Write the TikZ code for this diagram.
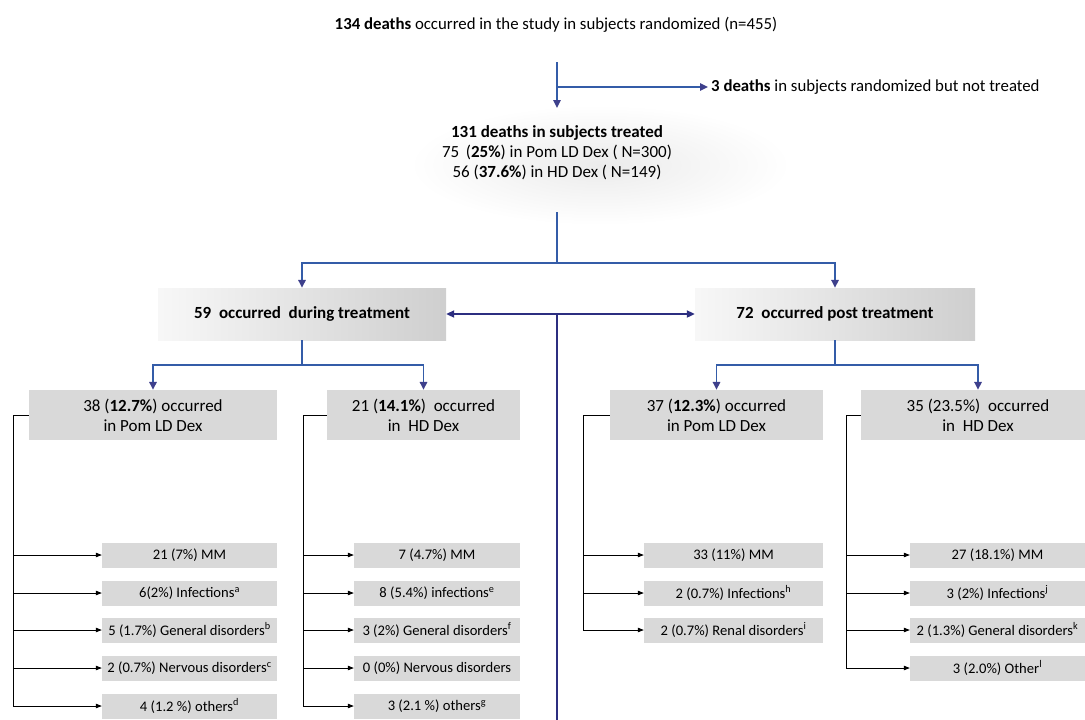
\documentclass[tikz,border=0pt]{standalone}
\usepackage{fontspec}
\setmainfont{Carlito}
\usetikzlibrary{arrows.meta,fadings}
\tikzfading[name=softbox, inner color=transparent!0, outer color=transparent!100]
\definecolor{lineblue}{RGB}{52,92,168}
\definecolor{headnavy}{RGB}{62,64,140}
\definecolor{centernavy}{RGB}{44,46,128}
\definecolor{boxgray}{RGB}{217,217,217}
\begin{document}
\begin{tikzpicture}[x=1pt,y=-1pt,
  bl/.style={draw=lineblue, line width=1.6pt},
  blarr/.style={bl, -{Triangle[length=8pt,width=7.5pt,color=headnavy]}},
  navyline/.style={draw=centernavy, line width=2pt},
  navyarr/.style={navyline, {Triangle[length=8pt,width=7pt]}-{Triangle[length=8pt,width=7pt]}},
  brk/.style={draw=black, line width=0.7pt, -{Triangle[length=6pt,width=4.5pt]}},
  plain/.style={inner sep=0pt, font=\fontsize{16.8}{20}\selectfont},
  topbox/.style={left color=black!3, right color=black!19, draw=none, minimum height=52pt,
    inner sep=0pt, font=\fontsize{17}{20}\selectfont\bfseries},
  shadowbox/.style={fill=black!8, draw=none, inner sep=0pt, path fading=softbox},
  midbox/.style={fill=boxgray, draw=none, minimum height=50pt, align=center,
    inner sep=0pt, font=\fontsize{17}{20}\selectfont},
  leaf/.style={fill=boxgray, draw=none, minimum height=25pt, inner sep=0pt,
    font=\fontsize{14.6}{16}\selectfont}
]
\useasboundingbox (0,0) rectangle (1085,720);
\clip (0,0) rectangle (1085,720);

% top
\node[plain] (title) at (556,25) {\textbf{134 deaths} occurred in the study in subjects randomized (n=455)};
\coordinate (c0) at (557,62);
\node[plain, anchor=west, inner xsep=3pt] (notreat) at (708,87) {\textbf{3 deaths} in subjects randomized but not treated};

\node[shadowbox, minimum width=380pt, minimum height=120pt] (s131) at (600,165) {};
\node[anchor=north, inner xsep=3pt, inner ysep=17pt, align=center, font=\fontsize{17}{20}\selectfont] (t131) at (557,108)
  {\textbf{131 deaths in subjects treated}\\75 \,(\textbf{25\%}) in Pom LD Dex ( N=300)\\56 (\textbf{37.6\%}) in HD Dex ( N=149)};

\draw[blarr] (c0) -- (t131.north);
\draw[blarr] (c0 |- notreat.west) -- (notreat.west);

% second level
\node[topbox, minimum width=288pt] (b59) at (302,314) {59 \ occurred \ during treatment};
\node[topbox, minimum width=280pt] (b72) at (835,314) {72 \ occurred post treatment};

\coordinate (j1) at (557,263);
\coordinate (j0) at (557,212);
\draw[bl] (j0) -- (j1);
\draw[blarr] (j1) -| (b59.north);
\draw[blarr] (j1) -| (b72.north);

\coordinate (cb) at (557,722);
\draw[navyline] (j1 |- b59.east) -- (cb);
\draw[navyarr] (b59.east) -- (b72.west);

% third level
\node[midbox, minimum width=248pt] (b38) at (153,415) {38 (\textbf{12.7\%}) occurred\\in Pom LD Dex};
\node[midbox, minimum width=193pt] (b21) at (423.5,415) {21 (\textbf{14.1\%}) \ occurred\\in \ HD Dex};
\node[midbox, minimum width=213pt] (b37) at (716.5,415) {37 (\textbf{12.3\%}) occurred\\in Pom LD Dex};
\node[midbox, minimum width=234pt] (b35) at (978,415) {35 (23.5\%) \ occurred\\in \ HD Dex};

\coordinate (j2) at (302,365);
\coordinate (j3) at (835,365);
\draw[bl] (b59.south) -- (j2);
\draw[blarr] (j2) -| (b38.north);
\draw[blarr] (j2) -| (b21.north);
\draw[bl] (b72.south) -- (j3);
\draw[blarr] (j3) -| (b37.north);
\draw[blarr] (j3) -| (b35.north);

% leaves group A
\node[leaf, minimum width=175pt] (a1) at (189.5,555) {21 (7\%) MM};
\node[leaf, minimum width=175pt] (a2) at (189.5,593) {6(2\%) Infections\textsuperscript{a}};
\node[leaf, minimum width=175pt] (a3) at (189.5,630) {5 (1.7\%) General disorders\textsuperscript{b}};
\node[leaf, minimum width=175pt] (a4) at (189.5,668) {2 (0.7\%) Nervous disorders\textsuperscript{c}};
\node[leaf, minimum width=175pt] (a5) at (189.5,706) {4 (1.2 \%) others\textsuperscript{d}};
% group B
\node[leaf, minimum width=166pt] (bb1) at (437,555) {7 (4.7\%) MM};
\node[leaf, minimum width=166pt] (bb2) at (437,593) {8 (5.4\%) infections\textsuperscript{e}};
\node[leaf, minimum width=166pt] (bb3) at (437,630) {3 (2\%) General disorders\textsuperscript{f}};
\node[leaf, minimum width=166pt] (bb4) at (437,668) {0 (0\%) Nervous disorders};
\node[leaf, minimum width=166pt] (bb5) at (437,706) {3 (2.1 \%) others\textsuperscript{g}};
% group C
\node[leaf, minimum width=179pt] (c1) at (733.5,555) {33 (11\%) MM};
\node[leaf, minimum width=179pt] (c2) at (733.5,593) {2 (0.7\%) Infections\textsuperscript{h}};
\node[leaf, minimum width=179pt] (c3) at (733.5,630) {2 (0.7\%) Renal disorders\textsuperscript{i}};
% group D
\node[leaf, minimum width=175pt] (d1) at (997.5,555) {27 (18.1\%) MM};
\node[leaf, minimum width=175pt] (d2) at (997.5,593) {3 (2\%) Infections\textsuperscript{j}};
\node[leaf, minimum width=175pt] (d3) at (997.5,630) {2 (1.3\%) General disorders\textsuperscript{k}};
\node[leaf, minimum width=175pt] (d4) at (997.5,668) {3 (2.0\%) Other\textsuperscript{l}};

\coordinate (kA) at (13,415);
\coordinate (kB) at (303,415);
\coordinate (kC) at (583,415);
\coordinate (kD) at (846,415);

\foreach \n in {a1,a2,a3,a4,a5} \draw[brk] (b38.west) -- (kA) |- (\n.west);
\foreach \n in {bb1,bb2,bb3,bb4,bb5} \draw[brk] (b21.west) -- (kB) |- (\n.west);
\foreach \n in {c1,c2,c3} \draw[brk] (b37.west) -- (kC) |- (\n.west);
\foreach \n in {d1,d2,d3,d4} \draw[brk] (b35.west) -- (kD) |- (\n.west);
\end{tikzpicture}
\end{document}
